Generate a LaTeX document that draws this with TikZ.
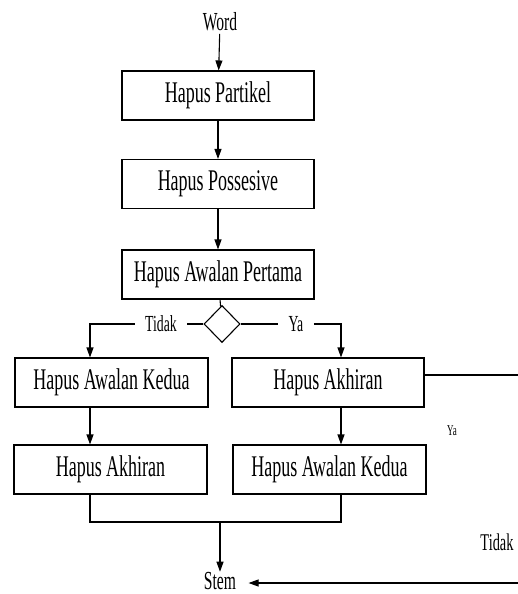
\documentclass[tikz,border=0pt]{standalone}
\usepackage{fontspec}
\setmainfont{Liberation Serif}[FakeStretch=0.6]
\usetikzlibrary{arrows.meta,shapes.geometric}
\begin{document}
\begin{tikzpicture}[x=1pt, y=-1pt, line width=1.1pt,
  box/.style={draw, minimum width=192pt, minimum height=49pt, inner sep=0pt, font=\fontsize{30}{32}\selectfont},
  lbl/.style={inner sep=0pt, inner xsep=10pt, font=\fontsize{23}{25}\selectfont},
  arr/.style={-{Triangle[length=10pt,width=7pt]}}]
\useasboundingbox (0,0) rectangle (518,594);
\node[font=\fontsize{26}{28}\selectfont, inner sep=2pt] (word) at (220,22) {Word};
\node[box] (partikel) at (218,95.5) {Hapus Partikel};
\draw[arr] (word) -- (partikel);
\node[box] (possesive) at (218,184) {Hapus Possesive};
\draw[arr] (partikel) -- (possesive);
\node[box] (pertama) at (218,274.5) {Hapus Awalan Pertama};
\draw[arr] (possesive) -- (pertama);
\node[diamond, draw, inner sep=0pt, minimum width=36pt, minimum height=37pt] (cek) at (222,324) {};
\draw (pertama) -- (cek);
\coordinate (kiri) at (90,324);
\coordinate (kanan) at (341,324);
\node[lbl] (tidak) at (161,324) {Tidak};
\node[lbl] (ya) at (296,324) {Ya};
\node[box, minimum width=193pt] (kedua_l) at (111.5,382.5) {Hapus Awalan Kedua};
\node[box] (akhiran_r) at (328,382.5) {Hapus Akhiran};
\draw (cek) -- (tidak);
\draw[arr] (tidak) -| (kiri |- kedua_l.north);
\draw (cek) -- (ya);
\draw[arr] (ya) -| (kanan |- akhiran_r.north);
\node[box, minimum width=193pt] (akhiran_l) at (110.5,469.5) {Hapus Akhiran};
\draw[arr] (kiri |- kedua_l.south) -- (kiri |- akhiran_l.north);
\node[box, minimum width=193pt] (kedua_r) at (329.5,469.5) {Hapus Awalan Kedua};
\draw[arr] (kanan |- akhiran_r.south) -- (kanan |- kedua_r.north);
\coordinate (gabung) at (220,522);
\draw (kiri |- akhiran_l.south) |- (gabung) -| (kanan |- kedua_r.south);
\node[font=\fontsize{26}{28}\selectfont, inner sep=0pt, inner xsep=12pt] (stem) at (220,581) {Stem};
\draw[arr] (gabung) -- (stem);
\coordinate (ujung_a) at (518,375);
\draw (akhiran_r.east |- ujung_a) -- (ujung_a);
\node[font=\fontsize{15}{17}\selectfont, inner sep=0pt] (ya_r) at (452,431) {Ya};
\node[font=\fontsize{24}{26}\selectfont, inner sep=0pt] (tidak_r) at (497,542) {Tidak};
\coordinate (ujung_b) at (518,583);
\draw[arr] (ujung_b) -- (ujung_b -| stem.east);
\end{tikzpicture}
\end{document}
